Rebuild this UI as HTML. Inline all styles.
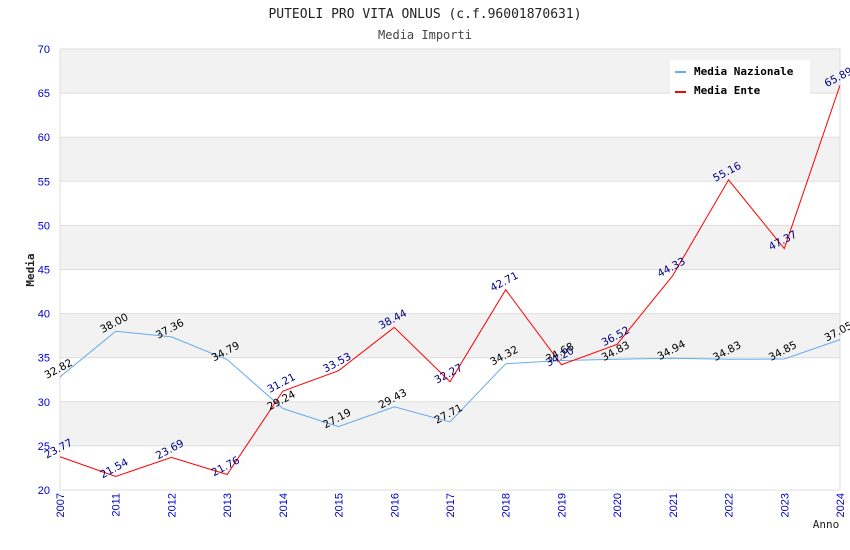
<!DOCTYPE html>
<html><head><meta charset="utf-8"><style>
body{margin:0;background:#fff;width:850px;height:550px;overflow:hidden}
svg{display:block}
</style></head><body>
<svg id="chart" width="850" height="550" xmlns="http://www.w3.org/2000/svg" font-family="'DejaVu Sans Mono','Liberation Mono',monospace">
<text x="425" y="18" text-anchor="middle" font-size="13" fill="#222">PUTEOLI PRO VITA ONLUS (c.f.96001870631)</text>
<text x="425" y="39" text-anchor="middle" font-size="12" fill="#444">Media Importi</text>
<g id="bands"></g><g id="grid"></g><g id="axes"></g><g id="lines"></g><g id="labels"></g>
<text transform="translate(34,270) rotate(-90)" text-anchor="middle" font-size="11" font-weight="bold" fill="#222">Media</text>
<text x="826" y="528" text-anchor="middle" font-size="11" fill="#222">Anno</text>
<g>
<rect x="670" y="60" width="140" height="36" fill="#fff"/>
<line x1="675" y1="72" x2="686" y2="72" stroke="#66aaee" stroke-width="2"/>
<text x="694" y="75" font-size="11" font-weight="bold" fill="#000">Media Nazionale</text>
<line x1="675" y1="92" x2="686" y2="92" stroke="#ff0000" stroke-width="2"/>
<text x="694" y="94" font-size="11" font-weight="bold" fill="#000">Media Ente</text>
</g>
</svg>
<script>
const categories=["2007","2011","2012","2013","2014","2015","2016","2017","2018","2019","2020","2021","2022","2023","2024"];
const nazionale=[32.82,38.00,37.36,34.79,29.24,27.19,29.43,27.71,34.32,34.68,34.83,34.94,34.83,34.85,37.05];
const ente=[23.77,21.54,23.69,21.76,31.21,33.53,38.44,32.27,42.71,34.20,36.52,44.33,55.16,47.37,65.89];
const yTicks=[20,25,30,35,40,45,50,55,60,65,70];
const NS="http://www.w3.org/2000/svg";
const L=60,R=840,T=49,B=490,ymin=20,ymax=70;
const xs=i=>L+i*(R-L)/(categories.length-1);
const ys=v=>B-(v-ymin)/(ymax-ymin)*(B-T);
function mk(tag,attrs,parent){const e=document.createElementNS(NS,tag);for(const k in attrs)e.setAttribute(k,attrs[k]);document.getElementById(parent).appendChild(e);return e;}
for(let i=0;i<yTicks.length-1;i++){
  if(i%2===1){const b=mk('rect',{x:L,y:ys(yTicks[i+1]),width:R-L,height:ys(yTicks[i])-ys(yTicks[i+1]),fill:'#f2f2f2'},'bands');
  
  }
}
yTicks.forEach(v=>{
  const g=mk('line',{x1:L,x2:R,y1:ys(v),y2:ys(v),stroke:'#dddddd'},'grid');
  
  
  const t=mk('text',{x:L-10,y:ys(v)+4,'text-anchor':'end','font-size':11,fill:'#0000cc','font-family':'Liberation Sans, sans-serif'},'axes');
  t.textContent=v;
  
  
});
const ax=mk('rect',{x:L,y:T,width:R-L,height:B-T,fill:'none',stroke:'#dddddd'},'axes');


categories.forEach((c,i)=>{
  const t=mk('text',{transform:`translate(${xs(i)+4},${B+3}) rotate(-90)`,'text-anchor':'end','font-size':11,fill:'#0000cc','font-family':'Liberation Sans, sans-serif'},'axes');
  t.textContent=c;
  
  
});
function series(data,color,lc,name){
  const p=mk('polyline',{points:data.map((v,i)=>xs(i)+','+ys(v)).join(' '),fill:'none',stroke:color,'stroke-width':1},'lines');
  
  
  data.forEach((v,i)=>{
    const t=mk('text',{transform:`translate(${xs(i)},${ys(v)-5}) rotate(-28)`,'text-anchor':'middle','font-size':10.5,fill:lc,'font-family':'DejaVu Sans, sans-serif'},'labels');
    t.textContent=v.toFixed(2);
    
    
  });
}
series(nazionale,'#66aaee','#000000','nazionale');
series(ente,'#ff0000','#000080','ente');
</script>
</body></html>
